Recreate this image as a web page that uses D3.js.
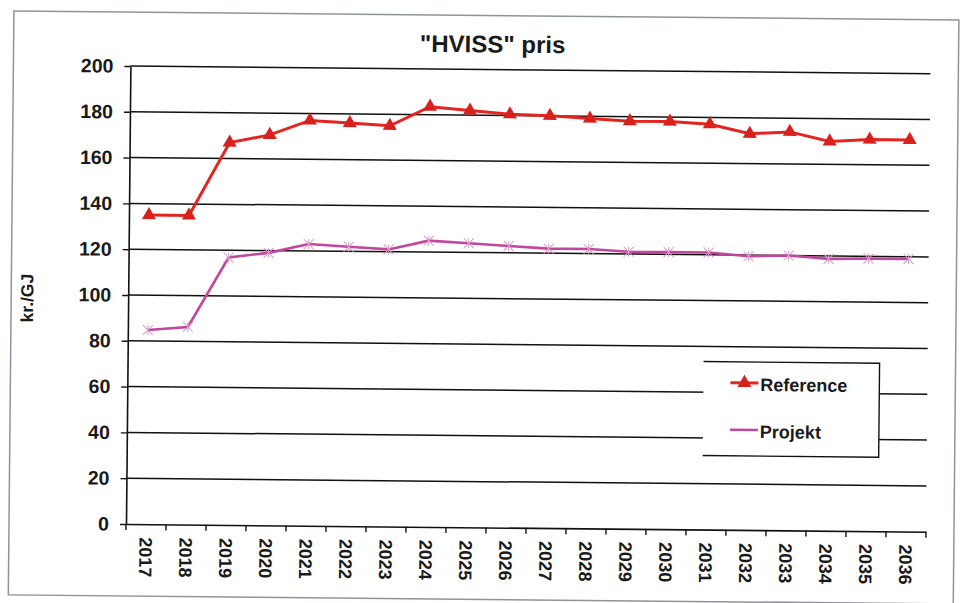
<!DOCTYPE html>
<html>
<head>
<meta charset="utf-8">
<script src="https://cdn.jsdelivr.net/npm/d3@7"></script>
<style>
  body { margin: 0; background: #fff; }
  svg { display: block; font-family: "Liberation Sans", Arial, sans-serif; }
</style>
</head>
<body>
<div id="chart"></div>
<script>
// data
var years = ["2017","2018","2019","2020","2021","2022","2023","2024","2025","2026",
             "2027","2028","2029","2030","2031","2032","2033","2034","2035","2036"];
var reference = [135, 135, 167, 170.5, 177, 176, 175, 183.5, 182, 180.5,
                 180, 179, 178, 178, 177, 173, 174, 170, 171, 171];
var projekt = [84.8, 86.3, 116.8, 119, 123, 122, 121, 125, 124, 123,
               122, 122, 121, 121, 121, 119.5, 120, 118.7, 119, 119];
var yTicks = [0, 20, 40, 60, 80, 100, 120, 140, 160, 180, 200];
var seriesNames = ["Reference", "Projekt"];

var svgWidth = 963, svgHeight = 603;
var margin = { top: 66, right: 37, bottom: 79, left: 126 };
var width = svgWidth - margin.left - margin.right;   // 800
var height = svgHeight - margin.top - margin.bottom; // 458

var refColor = "#e3241f";
var projColor = "#c2469c";

var svg = d3.select("#chart").append("svg")
  .attr("width", svgWidth)
  .attr("height", svgHeight);

// the scan is turned a little clockwise
var page = svg.append("g")
  .attr("transform", "rotate(0.55, " + margin.left + ", " + (margin.top + height) + ")");

// outer frame of the pasted chart
page.append("rect")
  .attr("x", 9).attr("y", 12)
  .attr("width", 945).attr("height", 584)
  .attr("fill", "none")
  .attr("stroke", "#8f939c")
  .attr("stroke-width", 1.5);

var chartGroup = page.append("g")
  .attr("transform", `translate(${margin.left}, ${margin.top})`);

var x = d3.scaleBand().domain(years).range([0, width]);
var y = d3.scaleLinear().domain([0, 200]).range([height, 0]);

// gridlines
chartGroup.append("g")
  .selectAll("line")
  .data(yTicks.filter(d => d > 0))
  .enter()
  .append("line")
  .attr("x1", 0).attr("x2", width)
  .attr("y1", d => y(d)).attr("y2", d => y(d))
  .attr("stroke", "#111")
  .attr("stroke-width", 1.5);

// y axis
var leftAxis = d3.axisLeft(y).tickValues(yTicks).tickSize(6).tickSizeOuter(0).tickPadding(11);
var Yaxis = chartGroup.append("g").call(leftAxis);
Yaxis.select(".domain").attr("stroke", "#111").attr("stroke-width", 1.6);
Yaxis.selectAll(".tick line").attr("stroke", "#111").attr("stroke-width", 1.4);
Yaxis.selectAll("text")
  .attr("font-size", 19.5)
  .attr("font-weight", "bold")
  .attr("fill", "#1a1a1a")
  .attr("font-family", "Liberation Sans, Arial, sans-serif");

// x axis: labels at centres, ticks at the category borders
var bottomAxis = d3.axisBottom(x).tickSize(0).tickPadding(0);
var Xaxis = chartGroup.append("g")
  .attr("transform", `translate(0, ${height})`)
  .call(bottomAxis);
Xaxis.select(".domain").attr("stroke", "#111").attr("stroke-width", 1.6);
Xaxis.selectAll("text")
  .attr("transform", "rotate(90)")
  .attr("x", 13)
  .attr("y", 0)
  .attr("dy", "0.36em")
  .style("text-anchor", "start")
  .attr("font-size", 18)
  .attr("font-weight", "bold")
  .attr("fill", "#1a1a1a")
  .attr("font-family", "Liberation Sans, Arial, sans-serif");

var borders = years.map(d => x(d)).concat([x.range()[1]]);
Xaxis.selectAll(".border-tick")
  .data(borders)
  .enter()
  .append("line")
  .attr("class", "border-tick")
  .attr("x1", d => d).attr("x2", d => d)
  .attr("y1", 0).attr("y2", 6)
  .attr("stroke", "#111")
  .attr("stroke-width", 1.4);

// lines
var cx = d => x(d) + x.bandwidth() / 2;
var lineGen = d3.line()
  .x((d, i) => cx(years[i]))
  .y(d => y(d));

chartGroup.append("path")
  .datum(projekt)
  .attr("d", lineGen)
  .attr("fill", "none")
  .attr("stroke", projColor)
  .attr("stroke-width", 2.6);

// faint star markers on Projekt
chartGroup.selectAll(".projMark")
  .data(projekt)
  .enter()
  .append("path")
  .attr("class", "projMark")
  .attr("transform", (d, i) => `translate(${cx(years[i])}, ${y(d)})`)
  .attr("d", "M-5,-5L5,5M-5,5L5,-5M0,-5L0,5")
  .attr("stroke", "#d79ccb")
  .attr("stroke-width", 1)
  .attr("fill", "none");

chartGroup.append("path")
  .datum(reference)
  .attr("d", lineGen)
  .attr("fill", "none")
  .attr("stroke", refColor)
  .attr("stroke-width", 3);

var tri = d3.symbol().type(d3.symbolTriangle).size(85);
chartGroup.selectAll(".refMark")
  .data(reference)
  .enter()
  .append("path")
  .attr("class", "refMark")
  .attr("transform", (d, i) => `translate(${cx(years[i])}, ${y(d)})`)
  .attr("d", tri)
  .attr("fill", "#d8201c");

// title
page.append("text")
  .attr("x", 488)
  .attr("y", 49)
  .attr("text-anchor", "middle")
  .attr("font-size", 24)
  .attr("font-weight", "bold")
  .attr("fill", "#1a1a1a")
  .text('"HVISS" pris');

// y axis title
page.append("text")
  .attr("transform", "translate(31, 299) rotate(-90)")
  .attr("text-anchor", "middle")
  .attr("font-size", 17.5)
  .attr("font-weight", "bold")
  .attr("fill", "#1a1a1a")
  .text("kr./GJ");

// legend
var legend = page.append("g");
legend.append("rect")
  .attr("x", 702).attr("y", 356)
  .attr("width", 176).attr("height", 94)
  .attr("fill", "#fff");
legend.append("path")
  .attr("d", "M702,356H878V450H702")
  .attr("fill", "none")
  .attr("stroke", "#111")
  .attr("stroke-width", 1.4);

var legendRows = [
  { name: seriesNames[0], color: refColor, y: 377 },
  { name: seriesNames[1], color: projColor, y: 424 }
];
legendRows.forEach(function(r, i) {
  legend.append("line")
    .attr("x1", 729).attr("x2", 757)
    .attr("y1", r.y).attr("y2", r.y)
    .attr("stroke", r.color)
    .attr("stroke-width", i === 0 ? 3 : 2.4);
  if (i === 0) {
    legend.append("path")
      .attr("transform", `translate(743, ${r.y})`)
      .attr("d", tri)
      .attr("fill", "#d8201c");
  }
  legend.append("text")
    .attr("x", 759)
    .attr("y", r.y + 8)
    .attr("font-size", 18)
    .attr("font-weight", "bold")
    .attr("fill", "#1a1a1a")
    .text(r.name);
});
</script>
</body>
</html>
